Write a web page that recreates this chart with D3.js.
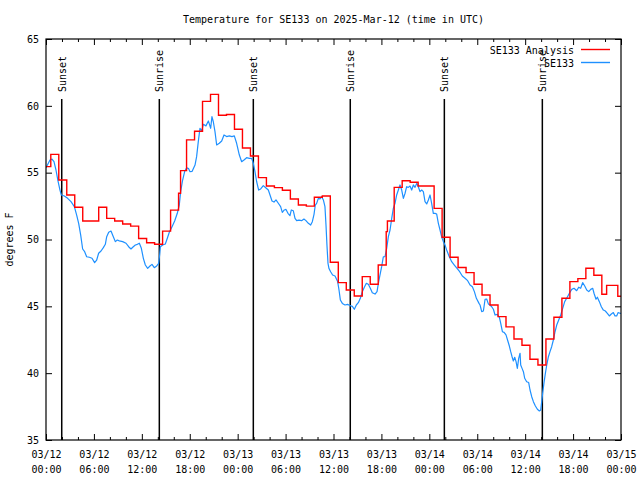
<!DOCTYPE html>
<html><head><meta charset="utf-8">
<script src="https://cdn.jsdelivr.net/npm/d3@7"></script>
<style>
body{margin:0;background:#fff}
text{font-family:"DejaVu Sans Mono",monospace;font-size:10px;fill:#000}
</style>
</head><body>
<svg id="chart" width="640" height="480"></svg>
<script>
// ---------------- data ----------------
const titleText = "Temperature for SE133 on 2025-Mar-12 (time in UTC)";
const yAxisLabel = "degrees F";
const startDate = Date.UTC(2025, 2, 12, 0, 0);
const spanHours = 72;
const yTicks = [35, 40, 45, 50, 55, 60, 65];
const xMajorHours = [0, 6, 12, 18, 24, 30, 36, 42, 48, 54, 60, 66, 72];
const xMinorHours = [2, 4, 8, 10, 14, 16, 20, 22, 26, 28, 32, 34, 38, 40, 44, 46, 50, 52, 56, 58, 62, 64, 68, 70];

const seriesNames = ["SE133 Analysis", "SE133"];

// SE133 Analysis (hourly, stepped)
const redHours = [0, 0.6, 1.6, 2.6, 3.6, 4.6, 5.6, 6.6, 7.6, 8.6, 9.6, 10.6, 11.6, 12.6, 13.6, 14.6, 15.6, 16.6, 16.85,
  17.6, 18.6, 19.6, 20.6, 21.6, 22.6, 23.6, 24.6, 25.6, 26.6, 27.6, 28.6, 29.6, 30.6, 31.6, 32.6, 33.6, 34.6,
  35.6, 36.6, 37.6, 38.6, 39.6, 40.6, 41.6, 42.6, 42.75, 43.6, 44.6, 45.6, 46.6, 47.6, 48.6, 49.6, 50.6, 51.6, 52.6,
  53.6, 54.6, 55.6, 56.6, 57.6, 58.6, 59.6, 60.6, 61.6, 62.6, 63.6, 64.6, 65.6, 66.6, 67.6, 68.6, 69.6, 70.2, 71.6, 72];
const redTemps = [55.45, 56.37, 54.45, 53.33, 52.41, 51.38, 51.38, 52.41, 51.58, 51.38, 51.16, 51.0, 50.08, 49.76, 49.64, 50.63, 52.2, 53.46, 55.15,
  57.45, 58.1, 60.33, 60.86, 59.3, 59.35, 58.25, 56.85, 56.25, 54.63, 54.0, 53.88, 53.68, 53.03, 52.58, 52.5, 53.16, 53.25,
  48.3, 46.77, 46.22, 45.77, 47.22, 46.65, 48.09, 50.59, 51.38, 53.9, 54.4, 54.28, 54.0, 54.0, 52.33, 50.17, 48.67, 47.9, 47.52,
  46.65, 45.85, 45.1, 44.23, 43.46, 42.56, 42.09, 41.04, 40.61, 42.56, 44.18, 45.6, 46.85, 47.07, 47.85, 47.32, 45.9, 46.57, 45.75, 45.75];

// SE133 observations
const blueHours = [0, 0.5, 0.75, 1.0, 1.25, 1.5, 1.75, 1.92, 2.3, 2.71, 3.13, 3.55, 3.84, 4.09, 4.34, 4.59, 4.84, 5.09, 5.43, 5.76,
  6.09, 6.34, 6.59, 6.89, 7.18, 7.43, 7.6, 7.85, 8.14, 8.43, 8.68, 8.93, 9.18, 9.6, 10.02, 10.35, 10.64, 10.93, 11.19, 11.44,
  11.69, 11.94, 12.19, 12.44, 12.73, 13.02, 13.27, 13.56, 13.86, 14.11, 14.23, 14.32, 14.61, 14.94, 15.19, 15.44, 15.78, 16.11,
  16.44, 16.69, 16.86, 17.11, 17.36, 17.61, 17.86, 18.03, 18.3, 18.66, 18.86, 19.07, 19.28, 19.49, 19.7, 20.03, 20.33, 20.62,
  20.78, 20.95, 21.16, 21.37, 21.7, 22.0, 22.29, 22.62, 22.95, 23.29, 23.58, 23.87, 24.21, 24.5, 24.79, 25.12, 25.46, 25.75,
  25.96, 26.17, 26.38, 26.63, 26.88, 27.21, 27.55, 27.84, 28.05, 28.3, 28.55, 28.8, 29.09, 29.38, 29.59, 29.84, 30.05, 30.3,
  30.55, 30.72, 30.97, 31.18, 31.39, 31.68, 32.01, 32.3, 32.55, 32.85, 33.14, 33.35, 33.56, 33.72, 33.89, 34.1, 34.31, 34.52,
  34.73, 34.93, 35.06, 35.18, 35.31, 35.43, 35.64, 35.89, 36.19, 36.52, 36.69, 36.86, 37.11, 37.44, 37.77, 38.07, 38.36, 38.61,
  38.86, 39.11, 39.36, 39.61, 39.86, 40.11, 40.36, 40.61, 40.86, 41.2, 41.45, 41.62, 41.78, 42.03, 42.24, 42.45, 42.66, 42.87,
  43.08, 43.29, 43.49, 43.7, 43.91, 44.12, 44.33, 44.54, 44.75, 44.96, 45.16, 45.37, 45.58, 45.79, 46.0, 46.21, 46.42, 46.62,
  46.83, 47.04, 47.25, 47.46, 47.67, 47.88, 48.09, 48.29, 48.5, 48.71, 48.92, 49.13, 49.34, 49.55, 49.76, 49.96, 50.17, 50.46,
  50.8, 51.13, 51.47, 51.8, 52.13, 52.47, 52.8, 53.1, 53.39, 53.64, 53.89, 54.22, 54.35, 54.56, 54.77, 54.98, 55.18, 55.39,
  55.6, 55.81, 56.02, 56.23, 56.52, 56.77, 56.94, 57.15, 57.36, 57.6, 57.86, 58.02, 58.19, 58.36, 58.52, 58.69, 58.86, 59.02,
  59.19, 59.36, 59.44, 59.61, 59.78, 59.94, 60.19, 60.44, 60.61, 60.82, 61.03, 61.28, 61.53, 61.78, 61.95, 62.07, 62.2, 62.36,
  62.53, 62.7, 62.91, 63.11, 63.32, 63.53, 63.74, 63.95, 64.2, 64.45, 64.7, 64.95, 65.2, 65.54, 65.83, 66.12, 66.45, 66.7,
  66.95, 67.2, 67.46, 67.71, 67.96, 68.21, 68.46, 68.62, 68.87, 69.04, 69.29, 69.54, 69.79, 70.04, 70.29, 70.54, 70.79, 71.04,
  71.25, 71.46, 71.63, 71.88, 72.0];
const blueTemps = [55.37, 55.95, 56.02, 55.82, 55.2, 54.38, 53.7, 53.33, 53.25, 53.08, 52.83, 52.46, 51.83, 51.21, 50.34, 49.29, 49.09, 48.71, 48.67, 48.6,
  48.27, 48.45, 48.97, 49.14, 49.39, 49.64, 50.21, 50.54, 50.63, 50.21, 49.84, 49.96, 49.9, 49.84, 49.72, 49.46, 49.29, 49.46, 49.59, 49.64,
  49.72, 49.34, 48.59, 48.09, 47.84, 48.02, 48.14, 47.89, 48.02, 48.22, 48.84, 49.46, 49.59, 49.66, 50.09, 50.54, 50.96, 51.38,
  51.96, 52.58, 53.58, 54.45, 55.08, 55.37, 55.3, 55.07, 55.1, 55.57, 56.2, 57.32, 58.32, 58.12, 58.62, 58.5, 58.87, 58.32,
  59.19, 58.81, 58.07, 57.07, 57.2, 57.37, 57.82, 57.7, 57.75, 57.7, 57.75, 57.2, 56.32, 55.82, 55.95, 56.12, 56.07, 56.07,
  55.7, 55.07, 54.32, 53.7, 53.78, 54.03, 53.85, 53.7, 53.33, 52.88, 52.8, 52.96, 52.71, 52.46, 52.03, 52.21, 52.25, 51.96,
  51.78, 52.21, 52.15, 51.58, 51.41, 51.45, 51.41, 51.53, 51.41, 51.21, 51.08, 51.33, 51.88, 52.58, 52.7, 53.08, 53.03, 53.2,
  52.96, 52.46, 51.08, 49.59, 48.22, 47.84, 47.59, 47.34, 47.27, 46.85, 46.22, 45.47, 45.22, 45.1, 45.15, 45.05, 45.0, 44.78,
  45.1, 45.27, 45.6, 46.1, 46.43, 46.72, 46.65, 46.35, 46.02, 45.92, 46.1, 46.72, 47.22, 47.97, 48.71, 48.71, 49.34, 50.21,
  50.71, 51.58, 52.33, 52.71, 53.33, 53.7, 54.08, 53.7, 53.08, 53.46, 53.95, 53.9, 54.0, 53.7, 54.08, 53.9, 54.2, 53.95,
  53.58, 53.7, 53.58, 52.83, 52.66, 52.96, 53.33, 52.71, 51.96, 51.96, 51.9, 51.21, 50.71, 50.17, 49.84, 49.59, 49.22, 48.77,
  48.34, 48.09, 47.84, 47.59, 47.27, 47.1, 46.92, 46.6, 46.47, 46.1, 45.6, 45.22, 45.1, 44.6, 44.65, 45.53, 45.55, 45.18,
  45.1, 44.97, 44.78, 44.35, 44.4, 44.18, 43.73, 43.1, 43.05, 42.86, 42.35, 42.03, 41.61, 41.23, 40.91, 41.19, 40.86, 40.36,
  41.11, 41.49, 40.61, 40.36, 40.11, 39.62, 39.36, 39.3, 38.74, 38.24, 37.87, 37.54, 37.3, 37.17, 37.25, 37.87, 38.54, 39.29,
  39.99, 40.61, 41.23, 41.61, 41.98, 42.48, 43.1, 43.6, 43.98, 44.35, 44.85, 45.35, 45.6, 45.98, 46.27, 46.35, 46.17, 46.43,
  46.35, 46.77, 46.52, 46.22, 46.1, 46.27, 46.35, 45.98, 45.53, 45.68, 45.35, 44.97, 44.72, 44.65, 44.48, 44.28, 44.43, 44.53,
  44.28, 44.28, 44.53, 44.48, 44.48];

const eventHours = [1.97, 14.19, 25.96, 38.1, 49.88, 62.15];
const eventLabels = ["Sunset", "Sunrise", "Sunset", "Sunrise", "Sunset", "Sunrise"];

// ---------------- drawing ----------------
const colors = ["#ff0000", "#1e90ff"];
const W = 640, H = 480;
const m = {left: 46, right: 621, top: 39, bottom: 440};
const toDate = h => new Date(startDate + h * 3600e3);

const x = d3.scaleUtc().domain([toDate(0), toDate(spanHours)]).range([m.left, m.right]);
const y = d3.scaleLinear().domain([35, 65]).range([m.bottom, m.top]);

const svg = d3.select("#chart");
svg.append("rect").attr("width", W).attr("height", H).attr("fill", "#fff");

svg.append("defs").append("clipPath").attr("id", "clip")
  .append("rect").attr("x", m.left).attr("y", m.top)
  .attr("width", m.right - m.left).attr("height", m.bottom - m.top);

const fmtDate = d3.utcFormat("%m/%d"), fmtTime = d3.utcFormat("%H:%M");
const majors = xMajorHours.map(toDate), minors = xMinorHours.map(toDate);

function styleAxis(g) {
  g.select(".domain").remove();
  g.selectAll(".tick line").attr("stroke", "#000").attr("stroke-width", 1);
}

// bottom axis (labels)
const gb = svg.append("g").attr("transform", `translate(0,${m.bottom})`)
  .call(d3.axisBottom(x).tickValues(majors).tickSize(-6).tickFormat(d => fmtDate(d)));
styleAxis(gb);
gb.selectAll(".tick text").each(function(d) {
  const t = d3.select(this);
  t.text(null).attr("y", 0).attr("dy", null)
    .style("font-family", '"DejaVu Sans Mono",monospace').style("font-size", "10px");
  t.append("tspan").attr("x", 0).attr("y", 18).text(fmtDate(d));
  t.append("tspan").attr("x", 0).attr("y", 33).text(fmtTime(d));
});
const gbm = svg.append("g").attr("transform", `translate(0,${m.bottom})`)
  .call(d3.axisBottom(x).tickValues(minors).tickSize(-3).tickFormat(""));
styleAxis(gbm);

// top axis (mirror)
const gt = svg.append("g").attr("transform", `translate(0,${m.top})`)
  .call(d3.axisTop(x).tickValues(majors).tickSize(-6).tickFormat(""));
styleAxis(gt);
const gtm = svg.append("g").attr("transform", `translate(0,${m.top})`)
  .call(d3.axisTop(x).tickValues(minors).tickSize(-3).tickFormat(""));
styleAxis(gtm);

// left axis
const gl = svg.append("g").attr("transform", `translate(${m.left},0)`)
  .call(d3.axisLeft(y).tickValues(yTicks).tickSize(-6).tickPadding(7).tickFormat(d3.format("d")));
styleAxis(gl);
gl.selectAll(".tick text").style("font-family", '"DejaVu Sans Mono",monospace').style("font-size", "10px");

// right axis
const gr = svg.append("g").attr("transform", `translate(${m.right},0)`)
  .call(d3.axisRight(y).tickValues(yTicks).tickSize(-6).tickFormat(""));
styleAxis(gr);

// sunrise / sunset markers
const ev = svg.append("g");
eventHours.forEach((h, i) => {
  const ex = x(toDate(h));
  ev.append("line").attr("x1", ex).attr("x2", ex).attr("y1", 99).attr("y2", m.bottom)
    .attr("stroke", "#000").attr("stroke-width", 1.5);
  ev.append("text").attr("transform", `translate(${ex + 4},92) rotate(-90)`)
    .attr("text-anchor", "start").text(eventLabels[i]);
});

// series
const plot = svg.append("g").attr("clip-path", "url(#clip)");
const redData = redHours.map((h, i) => [toDate(h), redTemps[i]]);
const blueData = blueHours.map((h, i) => [toDate(h), blueTemps[i]]);

plot.append("path").datum(blueData)
  .attr("fill", "none").attr("stroke", colors[1]).attr("stroke-width", 1.2)
  .attr("stroke-linejoin", "round")
  .attr("d", d3.line().x(d => x(d[0])).y(d => y(d[1])));

plot.append("path").datum(redData)
  .attr("fill", "none").attr("stroke", colors[0]).attr("stroke-width", 1.4)
  .attr("d", d3.line().curve(d3.curveStepAfter).x(d => x(d[0])).y(d => y(d[1])));

// border
svg.append("rect").attr("x", m.left).attr("y", m.top)
  .attr("width", m.right - m.left).attr("height", m.bottom - m.top)
  .attr("fill", "none").attr("stroke", "#000").attr("stroke-width", 1.2);

// legend
const lg = svg.append("g");
seriesNames.forEach((name, i) => {
  const ly = 49.5 + i * 13;
  lg.append("text").attr("x", 574).attr("y", ly + 4).attr("text-anchor", "end").text(name);
  lg.append("line").attr("x1", 581).attr("x2", 610).attr("y1", ly).attr("y2", ly)
    .attr("stroke", colors[i]).attr("stroke-width", 1.4);
});

// title & axis label
svg.append("text").attr("x", (m.left + m.right) / 2).attr("y", 23)
  .attr("text-anchor", "middle").text(titleText);
svg.append("text").attr("transform", `translate(13,${(m.top + m.bottom) / 2}) rotate(-90)`)
  .attr("text-anchor", "middle").text(yAxisLabel);
</script>
</body></html>
